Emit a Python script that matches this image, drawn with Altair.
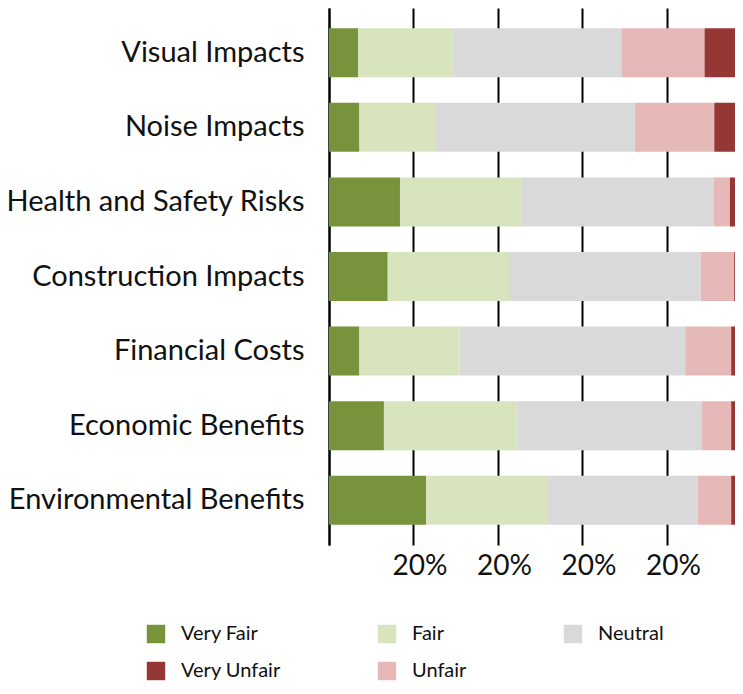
import altair as alt
import pandas as pd

categories = ["Visual Impacts", "Noise Impacts", "Health and Safety Risks",
              "Construction Impacts", "Financial Costs", "Economic Benefits",
              "Environmental Benefits"]
responses = ["Very Fair", "Fair", "Neutral", "Unfair", "Very Unfair"]
very_fair = [6.9, 7.2, 16.8, 13.9, 7.2, 13.0, 23.0]
fair = [22.7, 17.9, 28.7, 28.7, 23.7, 31.7, 28.8]
neutral = [39.6, 47.3, 45.6, 45.4, 53.4, 43.6, 35.5]
unfair = [19.7, 18.8, 3.8, 7.9, 10.9, 6.9, 7.9]
very_unfair = [11.1, 8.8, 5.1, 4.1, 4.8, 4.8, 4.8]
legend_order = ["Very Fair", "Fair", "Neutral", "Very Unfair", "Unfair"]
legend_colors = ["#77933c", "#d7e4bd", "#d9d9d9", "#953735", "#e6b9b8"]
tick_values = [0, 20, 40, 60, 80]

series = [very_fair, fair, neutral, unfair, very_unfair]
rows = []
for ri, (resp, vals) in enumerate(zip(responses, series)):
    for cat, v in zip(categories, vals):
        rows.append({"Category": cat, "Response": resp, "Value": v, "Order": ri})
df = pd.DataFrame(rows)

chart = alt.Chart(df).mark_bar(clip=True).encode(
    y=alt.Y("Category:N", sort=categories, title=None,
            scale=alt.Scale(paddingInner=0.343, paddingOuter=0.272),
            axis=alt.Axis(labelFont="Lato", labelFontSize=29, labelColor="#111111",
                          ticks=False, labelPadding=25, domain=True,
                          domainColor="#000000", domainWidth=2, grid=False,
                          labelLimit=400)),
    x=alt.X("Value:Q", stack="zero", title=None,
            scale=alt.Scale(domain=[0, 96.1], nice=False),
            axis=alt.Axis(values=tick_values, grid=True, gridColor="#000000",
                          gridWidth=2, gridOpacity=1, domain=False, ticks=False,
                          labelFont="Lato", labelFontSize=28, labelColor="#111111",
                          labelPadding=7, labelOffset=6,
                          labelExpr="datum.value == 0 ? '' : '20%'")),
    color=alt.Color("Response:N",
                    scale=alt.Scale(domain=legend_order, range=legend_colors),
                    legend=alt.Legend(title=None, orient="none", legendX=-183, legendY=616,
                                      columns=3, direction="horizontal",
                                      symbolType="square", symbolSize=340,
                                      symbolStrokeWidth=0, labelFont="Lato",
                                      labelFontSize=20, labelColor="#111111",
                                      labelOffset=15, columnPadding=96,
                                      rowPadding=17, padding=0)),
    order=alt.Order("Order:Q"),
).properties(
    width=406, height=537,
    autosize=alt.AutoSizeParams(type="none"),
    padding={"left": 321, "top": 0, "right": 0, "bottom": 139},
).configure_view(stroke=None)

chart.save("out.html", embed_options={"renderer": "svg", "actions": False})
